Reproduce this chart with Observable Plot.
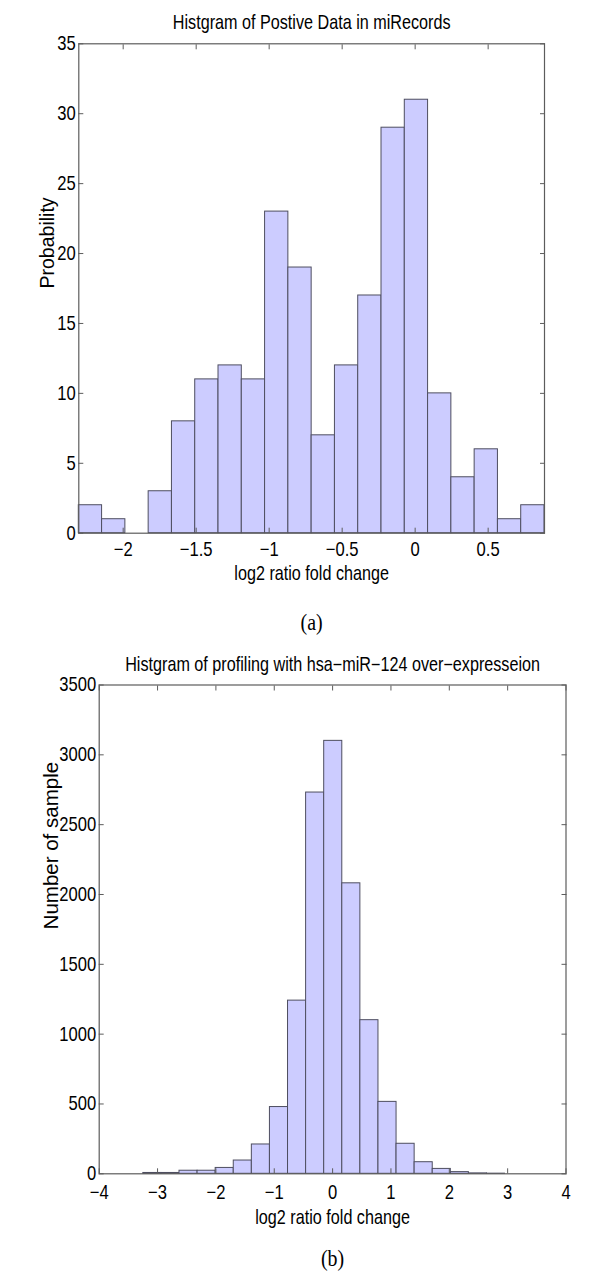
<!DOCTYPE html>
<html><head><meta charset="utf-8">
<script src="https://cdn.jsdelivr.net/npm/d3@7"></script>
<script src="https://cdn.jsdelivr.net/npm/@observablehq/plot@0.6"></script>
<style>
body{margin:0;background:#fff;}
#wrap{position:relative;width:600px;height:1278px;overflow:hidden;}
#wrap svg{position:absolute;left:0;}
</style></head><body><div id="wrap"></div>
<script>
// ---------- Panel (a) ----------
const titleA = "Histgram of Postive Data in miRecords";
const yLabelA = "Probability";
const xLabelA = "log2 ratio fold change";
const captionA = "(a)";
const binEdgesA = [-2.304, -2.1445, -1.985, -1.8255, -1.666, -1.5065, -1.347, -1.1875, -1.028, -0.8685, -0.709,
                   -0.5495, -0.39, -0.2305, -0.071, 0.0885, 0.248, 0.4075, 0.567, 0.7265, 0.886];
const countsA = [2, 1, 0, 3, 8, 11, 12, 11, 23, 19, 7, 12, 17, 29, 31, 10, 4, 6, 1, 2];
const xTicksA = [-2, -1.5, -1, -0.5, 0, 0.5];
const yTicksA = [0, 5, 10, 15, 20, 25, 30, 35];
const xDomainA = [-2.304, 0.886];
const yDomainA = [0, 35];

// ---------- Panel (b) ----------
const titleB = "Histgram of profiling with hsa\u2212miR\u2212124 over\u2212expresseion";
const yLabelB = "Number of sample";
const xLabelB = "log2 ratio fold change";
const captionB = "(b)";
const binEdgesB = [-3.244, -2.934, -2.624, -2.314, -2.004, -1.694, -1.384, -1.074, -0.764, -0.454, -0.144,
                   0.166, 0.476, 0.786, 1.096, 1.406, 1.716, 2.026, 2.336, 2.646, 2.954];
const countsB = [6, 6, 22, 22, 42, 95, 210, 478, 1240, 2730, 3100, 2080, 1100, 515, 215, 83, 35, 12, 3, 1];
const xTicksB = [-4, -3, -2, -1, 0, 1, 2, 3, 4];
const yTicksB = [0, 500, 1000, 1500, 2000, 2500, 3000, 3500];
const xDomainB = [-4, 4];
const yDomainB = [0, 3500];

const SANS = "'Liberation Sans', Arial, Helvetica, sans-serif";
const SERIF = "'Liberation Serif', 'DejaVu Serif', serif";
const FRAME = "#5c5c5c";
const SQUEEZE = 0.83; // the original figure's horizontal text is condensed

function panel(o) {
  const bins = o.counts.map((c, i) => ({x1: o.edges[i], x2: o.edges[i + 1], y: c}));
  const fmt = d => (d < 0 ? "\u2212" : "") + String(Math.abs(d));
  return Plot.plot({
    width: 600, height: o.height,
    marginTop: o.mt, marginBottom: o.mb, marginLeft: o.ml, marginRight: o.mr,
    style: {fontFamily: SANS, fontSize: "20px", color: "#000", background: "transparent", overflow: "visible"},
    x: {domain: o.xDomain},
    y: {domain: o.yDomain},
    marks: [
      Plot.rectY(bins, {x1: "x1", x2: "x2", y: "y", fill: "#ccccff", stroke: "#4e4e60", strokeWidth: 1}),
      Plot.frame({stroke: FRAME, strokeWidth: 1.2}),
      // inward tick marks on all four sides
      Plot.axisX({anchor: "bottom", ticks: o.xTicks, tickSize: -5, stroke: FRAME, tickFormat: () => "", label: null}),
      Plot.axisX({anchor: "top", ticks: o.xTicks, tickSize: -5, stroke: FRAME, tickFormat: () => "", label: null}),
      Plot.axisY({anchor: "left", ticks: o.yTicks, tickSize: -5, stroke: FRAME, tickFormat: () => "", label: null}),
      Plot.axisY({anchor: "right", ticks: o.yTicks, tickSize: -5, stroke: FRAME, tickFormat: () => "", label: null}),
      // tick labels
      Plot.axisX({anchor: "bottom", ticks: o.xTicks, tickSize: 0, tickPadding: o.xPad, tickFormat: fmt, label: null, fontSize: 20}),
      Plot.axisY({anchor: "left", ticks: o.yTicks, tickSize: 0, tickPadding: 3, tickFormat: fmt, label: null, fontSize: 20}),
      // titles & labels
      Plot.text([o.title], {frameAnchor: "top", dy: o.titleDy, lineAnchor: "middle", fontSize: 19.5, fill: "#000"}),
      Plot.text([o.xLabel], {frameAnchor: "bottom", dy: o.xLabelDy, lineAnchor: "middle", fontSize: 19.5, fill: "#000"}),
      Plot.text([o.yLabel], {frameAnchor: "left", dx: o.yLabelDx, rotate: -90, lineAnchor: "middle", fontSize: o.yLabelSize, fill: "#000"}),
      Plot.text([o.caption], {frameAnchor: "bottom", dy: o.capDy, lineAnchor: "middle", fontSize: 24, fontFamily: SERIF, fill: "#000"})
    ]
  });
}

// condense horizontal sans-serif text about its own anchor point
function condense(svg) {
  svg.querySelectorAll("text").forEach(t => {
    const own = t.getAttribute("transform") || "";
    const par = t.parentNode.getAttribute("transform") || "";
    if ((own + par).includes("rotate")) return;
    const ff = t.getAttribute("font-family") || "";
    if (ff.includes("Serif")) return;
    const x = +t.getAttribute("x") || 0;
    t.setAttribute("transform", `${own} translate(${x},0) scale(${SQUEEZE},1) translate(${-x},0)`.trim());
  });
}

const wrap = document.getElementById("wrap");
const svgA = panel({
  height: 640, mt: 43.3, mb: 640 - 532.7, ml: 78.3, mr: 56,
  edges: binEdgesA, counts: countsA, xTicks: xTicksA, yTicks: yTicksA,
  xDomain: xDomainA, yDomain: yDomainA,
  title: titleA, xLabel: xLabelA, yLabel: yLabelA, caption: captionA,
  titleDy: -21, xLabelDy: 41, yLabelDx: -31, yLabelSize: 19.5, capDy: 89, xPad: 9
});
svgA.style.top = "0px";
wrap.appendChild(svgA);
condense(svgA);

// panel (b) svg starts at y = 628 in the page; its frame spans 684.5 .. 1173.3
const topB = 628;
const svgB = panel({
  height: 1278 - topB, mt: 684.5 - topB, mb: 1278 - 1173.3, ml: 98.7, mr: 34.5,
  edges: binEdgesB, counts: countsB, xTicks: xTicksB, yTicks: yTicksB,
  xDomain: xDomainB, yDomain: yDomainB,
  title: titleB, xLabel: xLabelB, yLabel: yLabelB, caption: captionB,
  titleDy: -20.5, xLabelDy: 44, yLabelDx: -48, yLabelSize: 20.5, capDy: 84.7, xPad: 10.5
});
svgB.style.top = topB + "px";
wrap.appendChild(svgB);
condense(svgB);
</script>
</body></html>
